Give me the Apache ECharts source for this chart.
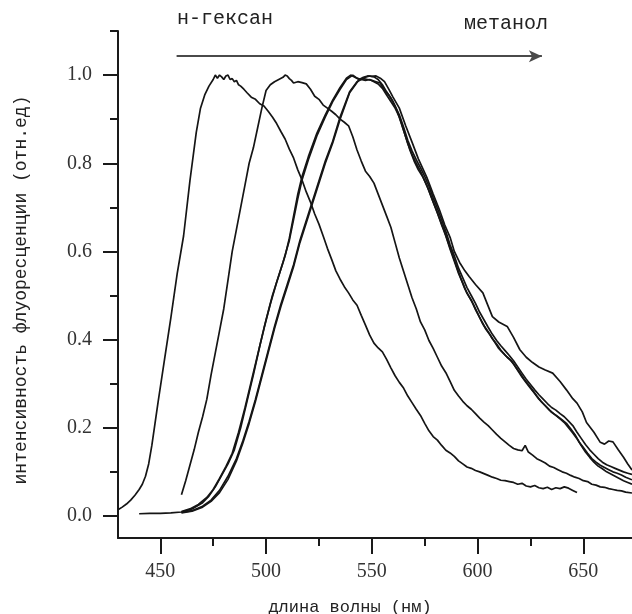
<!DOCTYPE html>
<html><head><meta charset="utf-8">
<script src="https://cdn.jsdelivr.net/npm/echarts@6/dist/echarts.min.js"></script>
<style>html,body{margin:0;padding:0;background:#fff}#c{width:632px;height:614px}</style>
</head><body><div id="c"></div><script>
// ---- data (wavelength nm, relative intensity) ----
const xMajorTicks = [450, 500, 550, 600, 650];
const xMinorTicks = [475, 525, 575, 625];
const yMajorTicks = [0, 0.2, 0.4, 0.6, 0.8, 1.0];
const yMinorTicks = [0.1, 0.3, 0.5, 0.7, 0.9, 1.1];

const xTitle = 'длина волны (нм)';
const yTitle = 'интенсивность флуоресценции (отн.ед)';
const startLabel = 'н-гексан';
const endLabel = 'метанол';
const arrowFrom = [457.7, 1.043];
const arrowTo = [630.4, 1.043];

const hexane = [[430,0.014],[432,0.02],[434,0.027],[436,0.036],[438,0.047],[440,0.06],[441.5,0.072],[443,0.09],[444.5,0.118],[446,0.16],[447.5,0.21],[449,0.26],[452,0.355],[455,0.45],[458,0.55],[461,0.635],[464,0.76],[467,0.87],[469,0.925],[471,0.955],[473,0.975],[475,0.99],[476,1.0],[477,0.993],[478,1.0],[479,0.996],[480,0.99],[481,0.998],[482,1.0],[483,0.99],[484,0.992],[485,0.985],[486,0.988],[487,0.978],[488,0.975],[489.5,0.968],[491,0.96],[493,0.95],[495,0.945],[497,0.935],[499,0.93],[501,0.918],[503,0.905],[505,0.89],[507,0.872],[509,0.855],[511,0.832],[513,0.812],[515,0.785],[517,0.762],[519,0.735],[521,0.712],[523,0.685],[525,0.662],[527,0.635],[529,0.607],[531,0.582],[533,0.556],[535,0.537],[537,0.52],[539,0.506],[541,0.49],[543,0.478],[545,0.455],[547,0.433],[549,0.41],[551,0.392],[553,0.381],[555,0.372],[557,0.355],[559,0.336],[561,0.318],[563,0.303],[565,0.29],[567,0.272],[569,0.257],[571,0.242],[573,0.228],[575,0.21],[577,0.193],[579,0.18],[581,0.172],[583,0.16],[585,0.149],[587,0.143],[589,0.135],[591,0.125],[593,0.118],[595,0.111],[597,0.108],[599,0.103],[601,0.1],[603,0.096],[605,0.092],[607,0.088],[609,0.085],[611,0.081],[613,0.08],[615,0.078],[617,0.076],[619,0.072],[621,0.074],[623,0.068],[625,0.066],[627,0.069],[629,0.064],[631,0.062],[633,0.065],[635,0.06],[637,0.064],[639,0.062],[641,0.066],[643,0.063],[645,0.058],[647,0.053]];

const solventB = [[460,0.048],[462,0.08],[464,0.115],[466,0.15],[468,0.19],[470,0.225],[472,0.265],[474,0.32],[476,0.37],[478,0.42],[480,0.47],[482,0.535],[484,0.6],[486,0.65],[488,0.7],[490,0.75],[492,0.8],[494,0.835],[496,0.88],[498,0.925],[500,0.965],[502,0.978],[504,0.985],[506,0.99],[508,0.995],[509,1.0],[510,0.998],[511,0.992],[512,0.988],[513,0.982],[515,0.985],[517,0.983],[519,0.98],[521,0.968],[523,0.952],[525,0.945],[527,0.932],[529,0.925],[531,0.918],[533,0.91],[535,0.9],[537,0.893],[539,0.885],[541,0.86],[543,0.83],[545,0.805],[547,0.782],[549,0.77],[551,0.755],[553,0.73],[555,0.705],[557,0.68],[559,0.655],[561,0.62],[563,0.585],[565,0.555],[567,0.525],[569,0.495],[571,0.47],[573,0.44],[575,0.422],[577,0.398],[579,0.38],[581,0.36],[583,0.34],[585,0.325],[587,0.305],[589,0.285],[591,0.272],[593,0.26],[595,0.25],[597,0.242],[599,0.232],[601,0.222],[603,0.213],[605,0.205],[607,0.195],[609,0.185],[611,0.176],[613,0.168],[615,0.16],[617,0.153],[619,0.15],[621,0.148],[622.5,0.16],[624,0.145],[626,0.138],[628,0.13],[630,0.125],[632,0.12],[634,0.113],[636,0.11],[638,0.105],[640,0.1],[642,0.097],[644,0.092],[646,0.088],[648,0.085],[650,0.08],[652,0.078],[654,0.072],[656,0.07],[658,0.066],[660,0.065],[662,0.062],[664,0.06],[666,0.058],[668,0.057],[670,0.054],[673,0.052]];

const solventC = [[440,0.005],[445,0.006],[450,0.006],[455,0.007],[460,0.009],[465,0.016],[470,0.03],[473,0.045],[476,0.066],[479,0.092],[482,0.118],[485,0.15],[488,0.2],[491,0.26],[494,0.32],[497,0.385],[500,0.445],[503,0.5],[506,0.545],[509,0.59],[511,0.63],[513,0.68],[515,0.73],[517,0.77],[520,0.815],[524,0.868],[528,0.91],[531.5,0.943],[535,0.972],[538,0.993],[540,1.0],[542,0.995],[544,0.99],[546,0.992],[548,0.99],[550,0.988],[552,0.985],[554,0.982],[556,0.965],[558,0.955],[560,0.94],[562,0.918],[564,0.89],[566,0.86],[568,0.83],[570,0.805],[572,0.785],[574,0.77],[576,0.75],[578,0.725],[580,0.7],[582,0.675],[584,0.65],[586,0.622],[588,0.595],[590,0.567],[592,0.54],[594,0.515],[596,0.497],[598,0.48],[600,0.46],[602,0.44],[604,0.423],[606,0.41],[608,0.395],[610,0.38],[612,0.37],[614,0.36],[616,0.352],[618,0.338],[620,0.325],[622,0.31],[624,0.298],[626,0.285],[628,0.272],[630,0.26],[632,0.25],[634,0.24],[636,0.232],[638,0.225],[640,0.218],[642,0.21],[644,0.198],[646,0.185],[648,0.168],[650,0.155],[652,0.142],[654,0.13],[656,0.122],[658,0.115],[660,0.11],[662,0.105],[664,0.1],[666,0.097],[668,0.093],[670,0.088],[673,0.082]];

const solventD = [[460,0.01],[464,0.016],[468,0.026],[472,0.042],[475,0.06],[478,0.085],[481,0.112],[484,0.142],[487,0.19],[490,0.245],[493,0.305],[496,0.365],[499,0.425],[502,0.48],[505,0.53],[508,0.575],[511,0.625],[513,0.672],[515,0.72],[517,0.762],[520,0.808],[524,0.862],[528,0.905],[531.5,0.94],[535,0.968],[538,0.99],[541,1.0],[543,0.993],[545,0.99],[547,0.988],[549,0.99],[551,0.985],[553,0.98],[555,0.97],[557,0.955],[559,0.94],[561,0.925],[563,0.905],[565,0.875],[567,0.845],[569,0.82],[571,0.8],[573,0.782],[575,0.76],[577,0.738],[579,0.712],[581,0.688],[583,0.66],[585,0.635],[587,0.605],[589,0.578],[591,0.55],[593,0.528],[595,0.505],[597,0.49],[599,0.468],[601,0.45],[603,0.432],[605,0.418],[607,0.402],[609,0.39],[611,0.376],[613,0.365],[615,0.356],[617,0.345],[619,0.33],[621,0.315],[623,0.302],[625,0.29],[627,0.278],[629,0.265],[631,0.255],[633,0.245],[635,0.235],[637,0.228],[639,0.22],[641,0.212],[643,0.2],[645,0.188],[647,0.175],[649,0.16],[651,0.145],[653,0.133],[655,0.122],[657,0.113],[659,0.107],[661,0.1],[663,0.095],[665,0.09],[667,0.085],[669,0.08],[671,0.076],[673,0.072]];

const solventE = [[460,0.008],[465,0.012],[470,0.022],[474,0.036],[478,0.058],[482,0.09],[486,0.13],[489,0.17],[492,0.215],[495,0.265],[498,0.32],[501,0.375],[504,0.43],[507,0.48],[510,0.525],[513,0.57],[516,0.625],[520,0.685],[524,0.745],[528,0.805],[531.5,0.85],[535,0.905],[539.5,0.962],[543,0.985],[545,0.99],[547,0.995],[549,0.998],[551,0.996],[553,0.99],[555,0.978],[557,0.962],[559,0.948],[561,0.93],[563,0.91],[565,0.882],[567,0.852],[569,0.828],[571,0.808],[573,0.79],[575,0.77],[577,0.748],[579,0.722],[581,0.698],[583,0.672],[585,0.645],[587,0.615],[589,0.59],[591,0.562],[593,0.54],[595,0.518],[597,0.5],[599,0.482],[601,0.462],[603,0.445],[605,0.428],[607,0.412],[609,0.398],[611,0.386],[613,0.375],[615,0.364],[617,0.352],[619,0.338],[621,0.324],[623,0.31],[625,0.298],[627,0.286],[629,0.275],[631,0.265],[633,0.255],[635,0.246],[637,0.24],[639,0.232],[641,0.225],[643,0.215],[645,0.205],[647,0.19],[649,0.176],[651,0.162],[653,0.15],[655,0.14],[657,0.13],[659,0.122],[661,0.116],[663,0.112],[665,0.108],[667,0.104],[669,0.1],[671,0.097],[673,0.094]];

const solventF = [[460,0.007],[465,0.011],[470,0.02],[474,0.033],[478,0.053],[482,0.083],[486,0.125],[489,0.165],[492,0.21],[495,0.26],[498,0.315],[501,0.37],[504,0.425],[507,0.475],[510,0.52],[513,0.565],[516,0.62],[520,0.68],[524,0.74],[528,0.8],[531.5,0.846],[535,0.9],[539.5,0.96],[544,0.99],[546,0.995],[548,0.998],[550,0.997],[552,0.998],[554,0.993],[556,0.985],[558,0.968],[560,0.95],[563,0.925],[566,0.885],[569,0.848],[572,0.81],[576,0.768],[579,0.73],[582,0.694],[584.5,0.66],[587,0.632],[589,0.6],[591.5,0.575],[594,0.556],[596,0.543],[599,0.525],[602.5,0.506],[605,0.476],[607,0.452],[610,0.44],[614,0.43],[617,0.405],[620,0.377],[623,0.36],[626,0.348],[629,0.338],[632,0.331],[635.5,0.324],[639,0.305],[642,0.286],[645,0.266],[647,0.256],[649.5,0.236],[651.5,0.212],[655,0.19],[658,0.167],[660,0.163],[662,0.17],[664,0.168],[666.5,0.15],[669,0.133],[671,0.118],[673,0.104]];

const curves = [hexane, solventB, solventC, solventD, solventE, solventF];

// ---- chart ----
const chart = echarts.init(document.getElementById('c'), null, {renderer: 'canvas'});
const axisColor = '#1a1a1a';
const labelFont = {fontFamily: 'Liberation Serif', fontSize: 20, color: '#333'};
const monoFont = 'Liberation Mono';

const series = curves.map((d, i) => ({
  type: 'line', data: d, showSymbol: false, symbol: 'none', smooth: false,
  xAxisIndex: 0, yAxisIndex: 0, silent: true, animation: false,
  lineStyle: {color: '#151515', width: 1.7},
  markLine: i === 0 ? {
    silent: true, animation: false,
    symbol: ['none', 'arrow'], symbolSize: [9, 13],
    label: {show: false},
    lineStyle: {color: '#4a4a4a', width: 2, type: 'solid'},
    emphasis: {disabled: true},
    data: [[{coord: arrowFrom}, {coord: arrowTo}]]
  } : undefined
}));

chart.setOption({
  animation: false,
  backgroundColor: '#fff',
  grid: {left: 118, top: 31, right: 0, bottom: 76, containLabel: false},
  xAxis: [
    {type: 'value', min: 430, max: 673, position: 'bottom',
     axisLine: {onZero: false, lineStyle: {color: axisColor, width: 2}},
     axisTick: {customValues: xMajorTicks, length: 16, lineStyle: {color: axisColor, width: 2}},
     axisLabel: Object.assign({customValues: xMajorTicks, margin: 24}, labelFont),
     splitLine: {show: false}},
    {type: 'value', min: 430, max: 673, position: 'bottom',
     axisLine: {show: false, onZero: false},
     axisTick: {customValues: xMinorTicks, length: 8, lineStyle: {color: axisColor, width: 2}},
     axisLabel: {show: false}, splitLine: {show: false}}
  ],
  yAxis: [
    {type: 'value', min: -0.05, max: 1.1, position: 'left',
     axisLine: {show: true, onZero: false, lineStyle: {color: axisColor, width: 2}},
     axisTick: {show: true, customValues: yMajorTicks, length: 15, lineStyle: {color: axisColor, width: 2}},
     axisLabel: Object.assign({customValues: yMajorTicks, margin: 26, formatter: v => v.toFixed(1)}, labelFont),
     splitLine: {show: false}},
    {type: 'value', min: -0.05, max: 1.1, position: 'left',
     axisLine: {show: false, onZero: false},
     axisTick: {show: true, customValues: yMinorTicks, length: 8, lineStyle: {color: axisColor, width: 2}},
     axisLabel: {show: false}, splitLine: {show: false}}
  ],
  graphic: [
    {type: 'text', left: 177, top: 9, style: {text: startLabel, font: '20px ' + monoFont, fill: '#222'}},
    {type: 'text', right: 632 - 548, top: 14, style: {text: endLabel, font: '20px ' + monoFont, fill: '#222'}},
    {type: 'text', x: 350, y: 607, style: {text: xTitle, font: '17px ' + monoFont, fill: '#222', align: 'center', verticalAlign: 'middle'}},
    {type: 'text', x: 21, y: 290, rotation: Math.PI / 2, style: {text: yTitle, font: '18px ' + monoFont, fill: '#222', align: 'center', verticalAlign: 'middle'}}
  ],
  series: series
});
</script></body></html>
